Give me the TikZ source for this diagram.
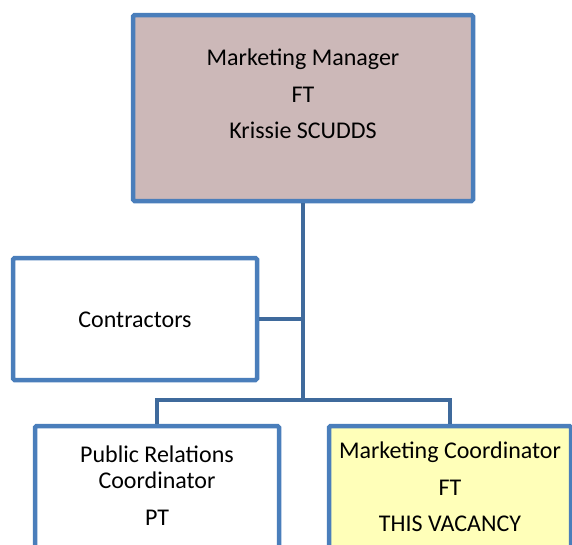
\documentclass[tikz,border=0pt]{standalone}
\usepackage{fontspec}
\setmainfont{Carlito}
\definecolor{boxline}{HTML}{4A7EBB}
\definecolor{linkline}{HTML}{3F6A9C}
\definecolor{mgrfill}{HTML}{CCB8B8}
\definecolor{vacfill}{HTML}{FFFFB9}
\begin{document}
\begin{tikzpicture}[x=1pt,y=-1pt,
  orgbox/.style={draw=boxline,line width=4.5pt,rounded corners=1.5pt,
    rectangle,inner sep=0pt,minimum width=#1},
  orgbox/.default=244pt,
  boxtext/.style={align=center,font=\fontsize{24}{26}\selectfont,inner sep=0pt,anchor=north},
  link/.style={draw=linkline,line width=4.5pt}]
\useasboundingbox (0,0) rectangle (572,544);
\clip (0,0) rectangle (572,544);
% boxes
\node[orgbox=340pt,minimum height=186pt,fill=mgrfill] (mgr) at (303,108) {};
\node[orgbox,minimum height=122pt,fill=white] (con) at (135,319) {};
\node[orgbox,minimum height=122pt,fill=white] (pr) at (157,487) {};
\node[orgbox=242pt,minimum height=122pt,fill=vacfill] (mc) at (450,487) {};
% box texts
\node[boxtext] (mgrtxt) at (303,49) {Marketing Manager\\[10.5pt]FT\\[10.5pt]Krissie SCUDDS};
\node[boxtext,anchor=center] (contxt) at (135,320) {Contractors};
\node[boxtext] (prtxt) at (157,446) {Public Relations\\Coordinator\\[11pt]PT};
\node[boxtext] (mctxt) at (450,442) {Marketing Coordinator\\[10.5pt]FT\\[10.5pt]THIS VACANCY};
% connectors
\coordinate (bus) at (303,400);
\draw[link] (mgr.south) -- (bus);
\draw[link] (con.east) -- (con.east -| mgr.south);
\draw[link] (pr.north) |- (bus) -| (mc.north);
\end{tikzpicture}
\end{document}
